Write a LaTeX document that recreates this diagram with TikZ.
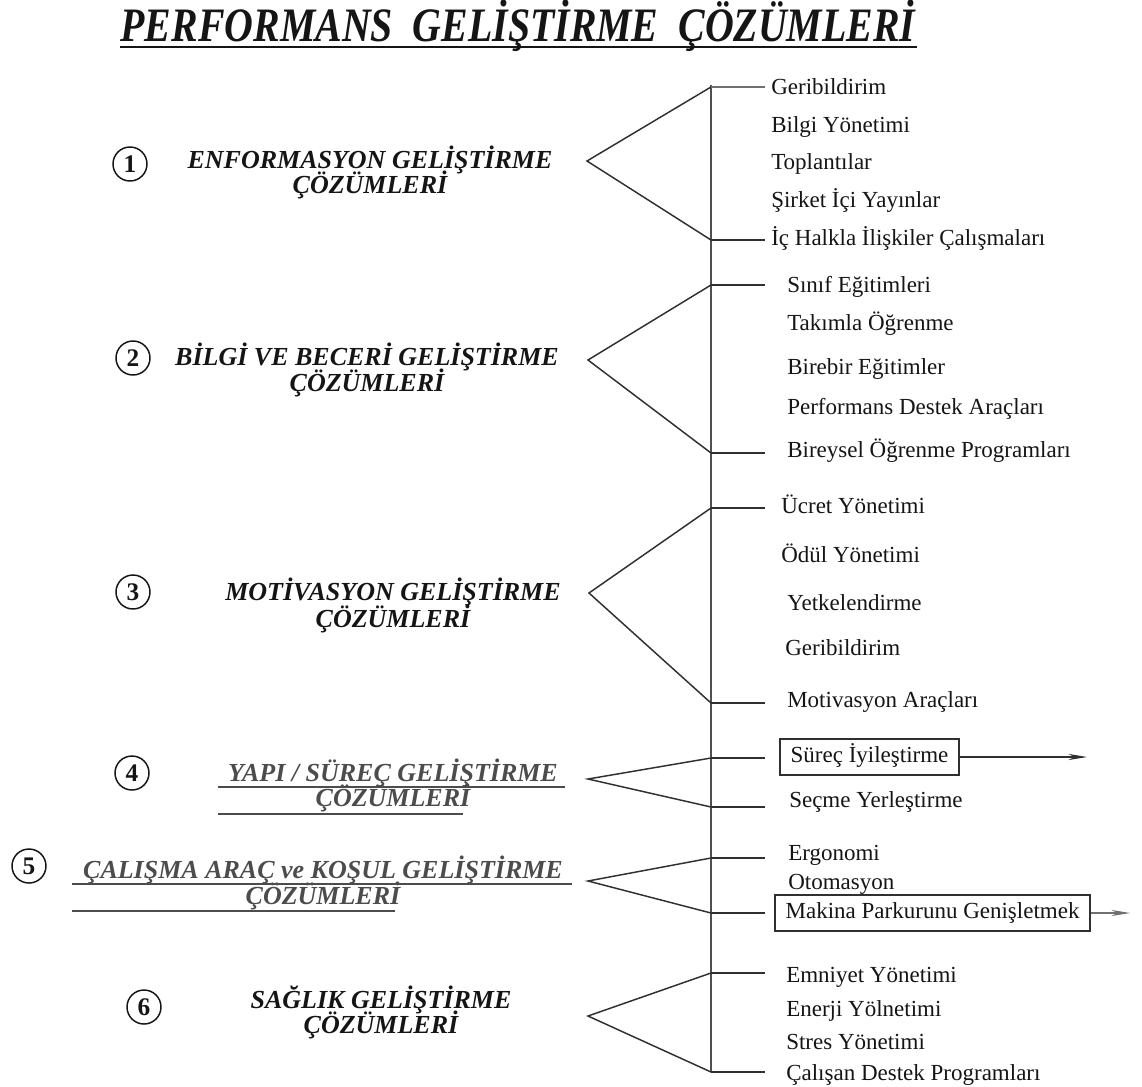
\documentclass[tikz,border=0pt]{standalone}
\usepackage{fontspec}
\usepackage{graphicx}
\setmainfont{Liberation Serif}
\usetikzlibrary{arrows.meta}
\definecolor{ink}{HTML}{151515}
\definecolor{greyink}{HTML}{4C4C4C}
\definecolor{wire}{HTML}{303030}
\definecolor{softwire}{HTML}{707070}
\definecolor{spinegrey}{HTML}{505050}
\tikzset{
  item/.style={anchor=west, inner sep=0pt, text height=11.4pt, text depth=0pt,
    font=\fontsize{17.25}{20}\selectfont, text=ink},
  boxitem/.style={draw=wire, line width=1.5pt, anchor=west, inner xsep=8pt, inner ysep=5.8pt,
    text height=12pt, text depth=3.5pt, font=\fontsize{17.25}{20}\selectfont, text=ink},
  grp/.style={anchor=base, inner sep=0pt, font=\fontsize{19.5}{24}\selectfont\bfseries\itshape, text=ink},
  grpgrey/.style={grp, text=greyink},
  num/.style={draw=ink, circle, line width=1.1pt, minimum size=25.5pt, inner sep=0pt,
    font=\fontsize{19}{22}\selectfont\bfseries, text=ink},
  wedge/.style={draw=wire, line width=1.1pt},
  stub/.style={draw=wire, line width=1pt},
  spine/.style={draw=spinegrey, line width=1.1pt},
  uline/.style={draw=greyink, line width=1.1pt},
  outarrow/.style={draw=wire, line width=0.8pt, -{Stealth[length=14pt,width=4.6pt]}}
}
\begin{document}
\begin{tikzpicture}[x=0.75pt,y=-0.75pt]
\useasboundingbox (0,0) rectangle (1142,1086);
\fill[white] (0,0) rectangle (1142,1086);

% heading
\node[inner sep=0pt, anchor=base, font=\fontsize{36}{40}\selectfont\bfseries\itshape, text=ink]
  (title) at (518,41) {\scalebox{0.83}[1]{PERFORMANS\ \ GELİŞTİRME\ \ ÇÖZÜMLERİ}};
\draw[draw=ink, line width=2.2pt] (120,47) -- (917,47);

% main vertical spine
\coordinate (top) at (711,85);
\coordinate (bot) at (711,1072);
\draw[spine] (top) -- (bot);

% ---------- group 1 ----------
\node[num] (c1) at (130,164) {1};
\node[grp] (g1a) at (370,168) {ENFORMASYON GELİŞTİRME};
\node[grp] (g1b) at (370,193) {ÇÖZÜMLERİ};
\coordinate (a1) at (587,161);
\coordinate (t1) at (711,87);  \coordinate (t1e) at (765,87);
\coordinate (b1) at (711,240); \coordinate (b1e) at (765,240);
\draw[wedge] (t1) -- (a1) -- (b1);
\draw[stub, draw=softwire] (t1) -- (t1e);
\draw[stub] (b1) -- (b1e);
\node[item] (i11) at (771,87)  {Geribildirim};
\node[item] (i12) at (771,125) {Bilgi Yönetimi};
\node[item] (i13) at (771,162) {Toplantılar};
\node[item] (i14) at (771,200) {Şirket İçi Yayınlar};
\node[item] (i15) at (771,238) {İç Halkla İlişkiler Çalışmaları};

% ---------- group 2 ----------
\node[num] (c2) at (133,358) {2};
\node[grp] (g2a) at (367,365) {BİLGİ VE BECERİ GELİŞTİRME};
\node[grp] (g2b) at (367,391) {ÇÖZÜMLERİ};
\coordinate (a2) at (588,360);
\coordinate (t2) at (711,285); \coordinate (t2e) at (765,285);
\coordinate (b2) at (711,453); \coordinate (b2e) at (765,453);
\draw[wedge] (t2) -- (a2) -- (b2);
\draw[stub] (t2) -- (t2e);
\draw[stub] (b2) -- (b2e);
\node[item] (i21) at (787,285) {Sınıf Eğitimleri};
\node[item] (i22) at (787,323) {Takımla Öğrenme};
\node[item] (i23) at (787,367) {Birebir Eğitimler};
\node[item] (i24) at (787,407) {Performans Destek Araçları};
\node[item] (i25) at (787,450) {Bireysel Öğrenme Programları};

% ---------- group 3 ----------
\node[num] (c3) at (133,592) {3};
\node[grp] (g3a) at (393,600) {MOTİVASYON GELİŞTİRME};
\node[grp] (g3b) at (393,627) {ÇÖZÜMLERİ};
\coordinate (a3) at (589,593);
\coordinate (t3) at (711,508); \coordinate (t3e) at (765,508);
\coordinate (b3) at (711,703); \coordinate (b3e) at (765,703);
\draw[wedge] (t3) -- (a3) -- (b3);
\draw[stub] (t3) -- (t3e);
\draw[stub] (b3) -- (b3e);
\node[item] (i31) at (781,506) {Ücret Yönetimi};
\node[item] (i32) at (781,555) {Ödül Yönetimi};
\node[item] (i33) at (787,603) {Yetkelendirme};
\node[item] (i34) at (785,648) {Geribildirim};
\node[item] (i35) at (787,700) {Motivasyon Araçları};

% ---------- group 4 ----------
\node[num] (c4) at (132,773) {4};
\node[grpgrey] (g4a) at (393,781) {YAPI / SÜREÇ GELİŞTİRME};
\node[grpgrey] (g4b) at (393,806) {ÇÖZÜMLERİ};
\draw[uline] (218,787) -- (565,787);
\draw[uline] (218,814) -- (463,814);
\coordinate (a4) at (588,779);
\coordinate (t4) at (711,758); \coordinate (t4e) at (765,758);
\coordinate (b4) at (711,807); \coordinate (b4e) at (765,807);
\draw[wedge] (t4) -- (a4) -- (b4);
\draw[stub] (t4) -- (t4e);
\draw[stub] (b4) -- (b4e);
\node[boxitem] (i41) at (779,757) {Süreç İyileştirme};
\node[item] (i42) at (789,800) {Seçme Yerleştirme};
\coordinate (o41) at (1087,757);
\draw[outarrow] (i41.east) -- (o41);

% ---------- group 5 ----------
\node[num] (c5) at (29,866) {5};
\node[grpgrey] (g5a) at (323,878) {ÇALIŞMA ARAÇ ve KOŞUL GELİŞTİRME};
\node[grpgrey] (g5b) at (323,904) {ÇÖZÜMLERİ};
\draw[uline] (72,884) -- (572,884);
\draw[uline] (72,911) -- (395,911);
\coordinate (a5) at (588,881);
\coordinate (t5) at (711,858); \coordinate (t5e) at (765,858);
\coordinate (b5) at (711,913); \coordinate (b5e) at (765,913);
\draw[wedge] (t5) -- (a5) -- (b5);
\draw[stub] (t5) -- (t5e);
\draw[stub] (b5) -- (b5e);
\node[item] (i51) at (788,853) {Ergonomi};
\node[item] (i52) at (788,882) {Otomasyon};
\node[boxitem] (i53) at (774,913) {Makina Parkurunu Genişletmek};
\coordinate (o53) at (1130,913);
\draw[outarrow, draw=softwire] (i53.east) -- (o53);

% ---------- group 6 ----------
\node[num] (c6) at (144,1007) {6};
\node[grp] (g6a) at (381,1008) {SAĞLIK GELİŞTİRME};
\node[grp] (g6b) at (381,1033) {ÇÖZÜMLERİ};
\coordinate (a6) at (588,1016);
\coordinate (t6) at (711,973);  \coordinate (t6e) at (765,973);
\coordinate (b6) at (711,1072); \coordinate (b6e) at (765,1072);
\draw[wedge] (t6) -- (a6) -- (b6);
\draw[stub] (t6) -- (t6e);
\draw[stub] (b6) -- (b6e);
\node[item] (i61) at (786,975)  {Emniyet Yönetimi};
\node[item] (i62) at (786,1009) {Enerji Yölnetimi};
\node[item] (i63) at (786,1042) {Stres Yönetimi};
\node[item] (i64) at (786,1073) {Çalışan Destek Programları};
\end{tikzpicture}
\end{document}
